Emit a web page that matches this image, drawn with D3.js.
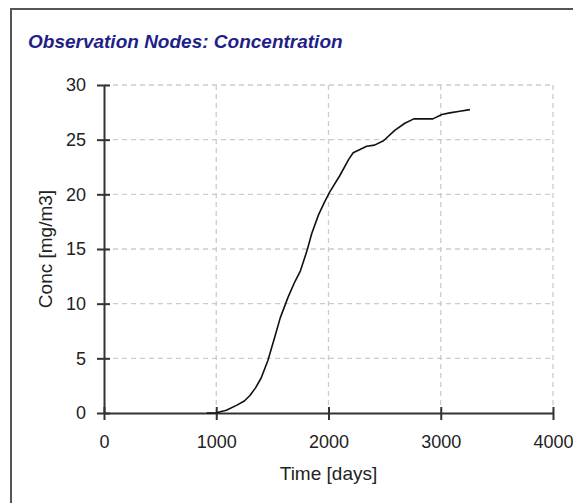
<!DOCTYPE html>
<html>
<head>
<meta charset="utf-8">
<script src="https://cdn.jsdelivr.net/npm/d3@7"></script>
<style>
    body { margin: 0; background: #ffffff; }
    svg { display: block; font-family: "Liberation Sans", Arial, sans-serif; }
</style>
</head>
<body>
<div id="chart"></div>
<script>
"use strict";
// observation node series
let time_days = [915, 1000, 1090, 1180, 1250, 1300, 1350, 1400, 1460, 1520, 1570, 1640, 1700, 1750, 1810, 1850, 1910, 1960, 2010, 2100, 2180, 2220, 2280, 2340, 2410, 2490, 2590, 2680, 2760, 2930, 3010, 3080, 3170, 3260];
let conc_mg_m3 = [0, 0.02, 0.25, 0.7, 1.1, 1.6, 2.3, 3.2, 4.8, 6.9, 8.7, 10.6, 12.0, 13.0, 14.9, 16.4, 18.1, 19.2, 20.2, 21.7, 23.2, 23.8, 24.1, 24.4, 24.5, 24.9, 25.85, 26.5, 26.9, 26.9, 27.3, 27.45, 27.6, 27.75];
let x_ticks = [0, 1000, 2000, 3000, 4000];
let y_ticks = [0, 5, 10, 15, 20, 25, 30];
let chart_title = "Observation Nodes: Concentration";
let x_title = "Time [days]";
let y_title = "Conc [mg/m3]";

let prop_width = 573;
let prop_height = 503;
let prop_plot = { left: 104, right: 553, top: 85, bottom: 413 };
let prop_color_axis = "#333333";
let prop_color_grid = "#cccccc";
let prop_color_text = "#222222";

function fn_crear_grafico() {
    let svg = d3.select("#chart").append("svg")
        .attr("width", prop_width)
        .attr("height", prop_height);

    // marco exterior
    svg.append("rect")
        .attr("x", 11)
        .attr("y", 9)
        .attr("width", 700)
        .attr("height", 700)
        .attr("fill", "none")
        .attr("stroke", "#555555")
        .attr("stroke-width", 2);

    svg.append("text")
        .text(chart_title)
        .attr("x", 28)
        .attr("y", 48)
        .attr("fill", "#1f1f8a")
        .style("font-size", "19px")
        .style("font-weight", "bold")
        .style("font-style", "italic");

    let x = d3.scaleLinear().domain([0, 4000]).range([prop_plot.left, prop_plot.right]);
    let y = d3.scaleLinear().domain([0, 30]).range([prop_plot.bottom, prop_plot.top]);

    let g_grid = svg.append("g").classed("g_grid", true);
    g_grid.selectAll("line.h")
        .data(y_ticks.filter(d => d > 0))
        .enter().append("line")
        .attr("x1", prop_plot.left)
        .attr("x2", prop_plot.right)
        .attr("y1", d => y(d))
        .attr("y2", d => y(d))
        .attr("stroke", prop_color_grid)
        .attr("stroke-width", 1.3)
        .attr("stroke-dasharray", "5,4");
    g_grid.selectAll("line.v")
        .data(x_ticks.filter(d => d > 0))
        .enter().append("line")
        .attr("x1", d => x(d))
        .attr("x2", d => x(d))
        .attr("y1", prop_plot.top)
        .attr("y2", prop_plot.bottom)
        .attr("stroke", prop_color_grid)
        .attr("stroke-width", 1.3)
        .attr("stroke-dasharray", "5,4");

    let g_x = svg.append("g")
        .attr("transform", "translate(0," + prop_plot.bottom + ")")
        .call(d3.axisBottom(x).tickValues(x_ticks).tickFormat(d3.format("d"))
            .tickSizeInner(7).tickSizeOuter(0).tickPadding(15));
    let g_y = svg.append("g")
        .attr("transform", "translate(" + prop_plot.left + ",0)")
        .call(d3.axisLeft(y).tickValues(y_ticks).tickFormat(d3.format("d"))
            .tickSizeInner(7).tickSizeOuter(0).tickPadding(11));

    [g_x, g_y].forEach(g => {
        g.select(".domain")
            .attr("stroke", prop_color_axis)
            .attr("stroke-width", 2);
        g.selectAll(".tick text")
            .attr("fill", prop_color_text)
            .style("font-size", "18px")
            .style("font-family", "'Liberation Sans', Arial, sans-serif");
    });
    // las marcas cruzan el eje
    g_x.selectAll(".tick line")
        .attr("y1", -6)
        .attr("y2", 7)
        .attr("stroke", prop_color_axis)
        .attr("stroke-width", 2);
    g_y.selectAll(".tick line")
        .attr("x1", 6)
        .attr("x2", -7)
        .attr("stroke", prop_color_axis)
        .attr("stroke-width", 2);

    svg.append("text")
        .text(x_title)
        .attr("x", (prop_plot.left + prop_plot.right) / 2)
        .attr("y", 480)
        .attr("text-anchor", "middle")
        .attr("fill", prop_color_text)
        .style("font-size", "19px");

    svg.append("text")
        .text(y_title)
        .attr("transform", "translate(52," + ((prop_plot.top + prop_plot.bottom) / 2) + ") rotate(-90)")
        .attr("text-anchor", "middle")
        .attr("fill", prop_color_text)
        .style("font-size", "19px");

    let line = d3.line()
        .x((d, i) => x(time_days[i]))
        .y(d => y(d));

    svg.append("path")
        .datum(conc_mg_m3)
        .attr("d", line)
        .attr("fill", "none")
        .attr("stroke", "#111111")
        .attr("stroke-width", 1.6)
        .attr("stroke-linejoin", "round");
}

fn_crear_grafico();
</script>
</body>
</html>
